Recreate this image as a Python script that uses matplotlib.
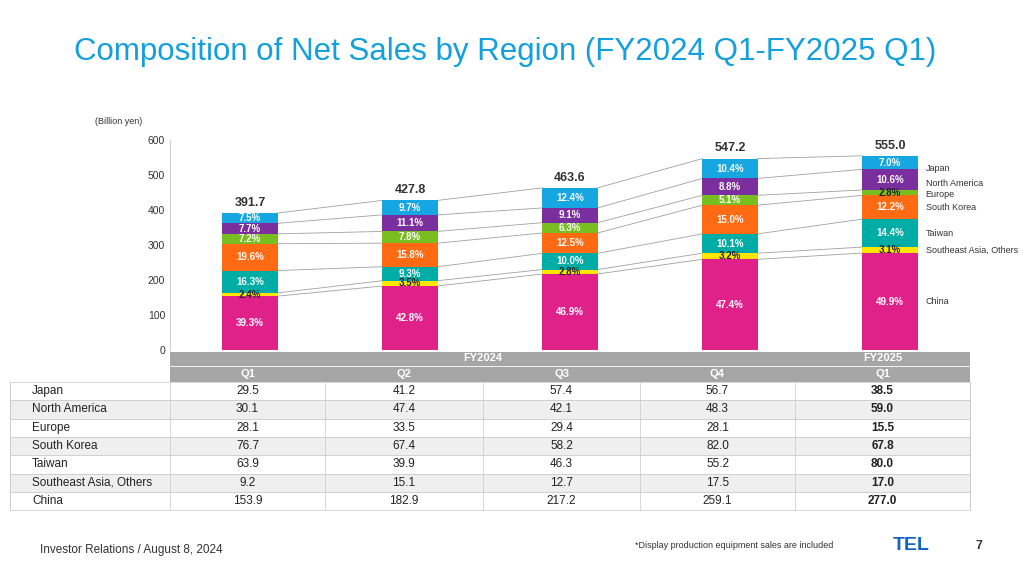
import numpy as np
import matplotlib.pyplot as plt
from matplotlib.patches import Rectangle

plt.rcParams['font.family'] = ['Liberation Sans', 'DejaVu Sans']

quarters = ['Q1', 'Q2', 'Q3', 'Q4', 'Q1']
regions = ['Japan', 'North America', 'Europe', 'South Korea', 'Taiwan',
           'Southeast Asia, Others', 'China']
japan = [29.5, 41.2, 57.4, 56.7, 38.5]
north_america = [30.1, 47.4, 42.1, 48.3, 59.0]
europe = [28.1, 33.5, 29.4, 28.1, 15.5]
south_korea = [76.7, 67.4, 58.2, 82.0, 67.8]
taiwan = [63.9, 39.9, 46.3, 55.2, 80.0]
se_asia = [9.2, 15.1, 12.7, 17.5, 17.0]
china = [153.9, 182.9, 217.2, 259.1, 277.0]
totals = [391.7, 427.8, 463.6, 547.2, 555.0]

# share labels as printed on the chart (%)
japan_pct = [7.5, 9.7, 12.4, 10.4, 7.0]
north_america_pct = [7.7, 11.1, 9.1, 8.8, 10.6]
europe_pct = [7.2, 7.8, 6.3, 5.1, 2.8]
south_korea_pct = [19.6, 15.8, 12.5, 15.0, 12.2]
taiwan_pct = [16.3, 9.3, 10.0, 10.1, 14.4]
se_asia_pct = [2.4, 3.5, 2.8, 3.2, 3.1]
china_pct = [39.3, 42.8, 46.9, 47.4, 49.9]

series = [japan, north_america, europe, south_korea, taiwan, se_asia, china]
pcts = [japan_pct, north_america_pct, europe_pct, south_korea_pct, taiwan_pct,
        se_asia_pct, china_pct]
colors = ['#16A6E2', '#7B2E9E', '#78BE20', '#FF6A13', '#00ADA6', '#FFE500', '#E0218A']

W, H = 1024, 570
fig = plt.figure(figsize=(W / 100, H / 100), dpi=100)
ax = fig.add_axes([170 / W, 1 - 350 / H, 800 / W, 210 / H])
x = np.arange(5)
bw = 0.345

stack_order = list(range(6, -1, -1))
bottoms = np.zeros(5)
tops = {}
for i in stack_order:
    vals = np.array(series[i])
    ax.bar(x, vals, bw, bottom=bottoms, color=colors[i], zorder=3)
    for j in range(5):
        pct = pcts[i][j]
        small = pct < 4
        ax.text(x[j], bottoms[j] + vals[j] / 2, f'{pct:.1f}%', ha='center', va='center',
                fontsize=7, fontweight='bold', color='#222222' if small else 'white', zorder=4)
    bottoms = bottoms + vals
    tops[i] = bottoms.copy()

for i in stack_order:
    for j in range(4):
        ax.plot([x[j] + bw / 2, x[j + 1] - bw / 2], [tops[i][j], tops[i][j + 1]],
                color='#A0A0A0', lw=0.6, zorder=2)

for j in range(5):
    ax.text(x[j], totals[j] + 12, f'{totals[j]:.1f}', ha='center', va='bottom',
            fontsize=9, fontweight='bold', color='#333333')

mids = []
for i in range(7):
    lo = tops[i][4] - series[i][4]
    mids.append((lo + tops[i][4]) / 2)
ys = []
prev = None
for m in mids:
    y = m if prev is None else min(m, prev - 19)
    ys.append(y)
    prev = y
ys[0] -= 18
ys[1] -= 12
ys[2] -= 6
for i in range(7):
    ax.text(x[4] + bw / 2 + 0.05, ys[i], regions[i], fontsize=6.5, va='center', color='#333333')

ax.set_xlim(-0.5, 4.5)
ax.set_ylim(0, 600)
ax.set_yticks(range(0, 601, 100))
ax.tick_params(axis='y', labelsize=7.5, length=0, colors='#333333')
ax.set_xticks([])
for s in ['top', 'right', 'bottom']:
    ax.spines[s].set_visible(False)
ax.spines['left'].set_color('#D0D0D0')
fig.text(95 / W, 1 - 122 / H, '(Billion yen)', fontsize=6.5, color='#333333', va='center')

ov = fig.add_axes([0, 0, 1, 1])
ov.set_xlim(0, W)
ov.set_ylim(H, 0)
ov.axis('off')

ov.text(505, 52, 'Composition of Net Sales by Region (FY2024 Q1-FY2025 Q1)',
        ha='center', va='center', fontsize=22.5, color='#14A0DC')

cols = [10, 170, 325, 483, 640, 795, 970]
hdr_top, hdr_mid, row_top = 352, 366, 382
ov.add_patch(Rectangle((170, hdr_top), 800, row_top - hdr_top, color='#A6A6A6', lw=0))
ov.text((170 + 795) / 2, hdr_top + 6, 'FY2024', ha='center', va='center',
        fontsize=8, fontweight='bold', color='white')
ov.text((795 + 970) / 2, hdr_top + 6, 'FY2025', ha='center', va='center',
        fontsize=8, fontweight='bold', color='white')
ov.plot([170, 970], [hdr_mid, hdr_mid], color='white', lw=0.6)
for j in range(5):
    ov.text((cols[j + 1] + cols[j + 2]) / 2, hdr_mid + 8, quarters[j], ha='center', va='center',
            fontsize=8, fontweight='bold', color='white')

rh = 18.3
for r in range(7):
    y0 = row_top + r * rh
    ov.add_patch(Rectangle((cols[0], y0), cols[-1] - cols[0], rh,
                           facecolor='#EFEFEF' if r % 2 else 'white',
                           edgecolor='#C8C8C8', lw=0.5))
    ov.text(cols[0] + 22, y0 + rh / 2, regions[r], va='center', fontsize=8.5, color='#222222')
    for j in range(5):
        ov.text((cols[j + 1] + cols[j + 2]) / 2, y0 + rh / 2, f'{series[r][j]:.1f}',
                ha='center', va='center', fontsize=8.5, color='#222222',
                fontweight='bold' if j == 4 else 'normal')
for c in cols:
    ov.plot([c, c], [row_top, row_top + 7 * rh], color='#C8C8C8', lw=0.5)

ov.text(40, 550, 'Investor Relations / August 8, 2024', fontsize=8.5, va='center', color='#333333')
ov.text(635, 545, '*Display production equipment sales are included', fontsize=6.5,
        va='center', color='#333333')
ov.text(893, 545, 'TEL', fontsize=14, fontweight='bold', va='center', color='#1565C0')
ov.text(975, 546, '7', fontsize=9, fontweight='bold', va='center', color='#333333')

fig.savefig('out.png', dpi=100)
